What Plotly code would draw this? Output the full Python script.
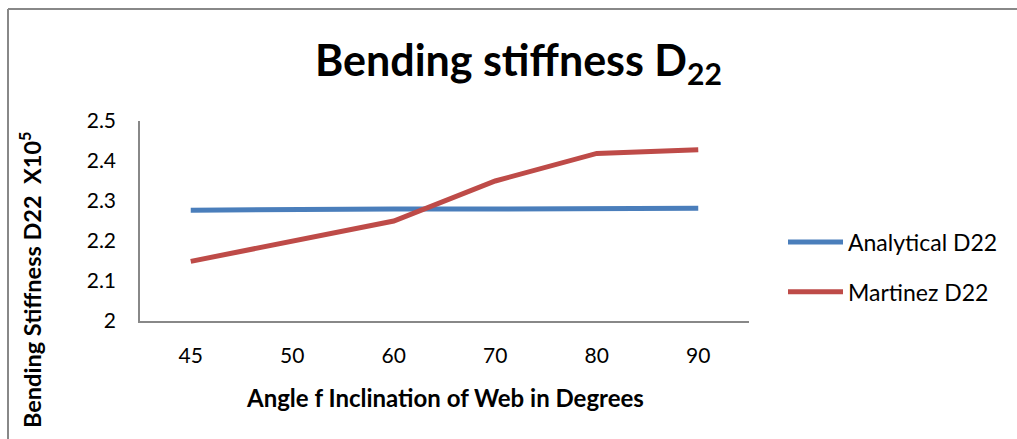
import plotly.graph_objects as go

angles = ["45", "50", "60", "70", "80", "90"]
analytical_d22 = [2.277, 2.280, 2.280, 2.280, 2.281, 2.282]
martinez_d22 = [2.149, 2.200, 2.250, 2.350, 2.419, 2.428]

W, H = 1017, 439
PL, PR, PT, PB = 140, 749, 121, 321  # plot area in pixels

def px(x):
    return (x - PL) / (PR - PL)

def py(y):
    return (PB - y) / (PB - PT)

FONT = "Lato"

fig = go.Figure()
fig.add_trace(go.Scatter(x=angles, y=analytical_d22, mode="lines", name="Analytical D22",
                         line=dict(color="#4A7EBB", width=5), legendgroup="a"))
fig.add_trace(go.Scatter(x=angles, y=martinez_d22, mode="lines", name="Martinez D22",
                         line=dict(color="#BE4B48", width=5), legendgroup="b"))

fig.update_layout(
    width=W, height=H,
    margin=dict(l=PL, r=W - PR, t=PT, b=H - PB),
    paper_bgcolor="white", plot_bgcolor="white",
    font=dict(family=FONT, color="black"),
    showlegend=True,
    legend=dict(x=px(783), y=py(267), xanchor="left", yanchor="middle",
                font=dict(size=23, family=FONT), tracegroupgap=17,
                bgcolor="rgba(0,0,0,0)", itemwidth=55),
    xaxis=dict(type="category", range=[-0.5, 5.5], showgrid=False, zeroline=False,
               showline=True, linecolor="#888888", linewidth=1.5, ticks="",
               tickfont=dict(size=21, family=FONT), ticklabelstandoff=15),
    yaxis=dict(range=[2, 2.5], dtick=0.1, showgrid=False, zeroline=False,
               showline=True, linecolor="#888888", linewidth=1.5, ticks="",
               tickvals=[2, 2.1, 2.2, 2.3, 2.4, 2.5],
               ticktext=["2", "2.1", "2.2", "2.3", "2.4", "2.5"],
               tickfont=dict(size=21, family=FONT), ticklabelstandoff=18),
    annotations=[
        dict(text="<b>Bending stiffness D<sub>22</sub></b>", x=px(518), y=py(62),
             xref="paper", yref="paper", showarrow=False, xanchor="center", yanchor="middle",
             font=dict(size=43, family=FONT)),
        dict(text="<b>Angle f Inclination of Web in Degrees</b>", x=px(445), y=py(397),
             xref="paper", yref="paper", showarrow=False, xanchor="center", yanchor="middle",
             font=dict(size=24, family=FONT)),
        dict(text="<b>Bending Stiffness D22  X10<sup>5</sup></b>", x=px(30), y=py(280),
             xref="paper", yref="paper", showarrow=False, xanchor="center", yanchor="middle",
             textangle=-90, font=dict(size=23.5, family=FONT)),
    ],
    shapes=[
        dict(type="line", xref="paper", yref="paper", x0=px(8), x1=px(1017), y0=py(9), y1=py(9),
             line=dict(color="#888888", width=2)),
        dict(type="line", xref="paper", yref="paper", x0=px(8), x1=px(8), y0=py(9), y1=py(439),
             line=dict(color="#888888", width=2)),
    ],
)

fig.write_html("out.html")
